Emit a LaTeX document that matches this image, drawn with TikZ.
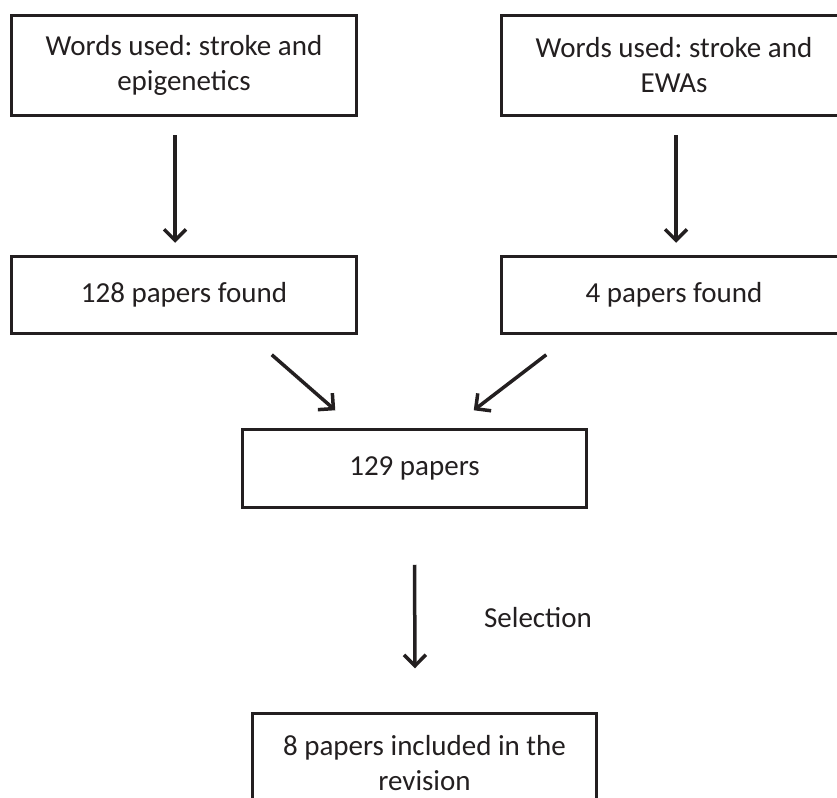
\documentclass[tikz,border=0pt]{standalone}
\usepackage{fontspec}
\setmainfont{Carlito}
\usetikzlibrary{arrows.meta}
\definecolor{ink}{HTML}{231F20}

\tikzset{
  paperbox/.style={
    rectangle,
    draw=ink,
    line width=3.5pt,
    minimum width=345pt,
    inner sep=2pt,
    text width=330pt,
    align=flush center
  },
}

\begin{document}
\begin{tikzpicture}[->, x=1pt, y=-1pt, color=ink, line width=3.5pt,
    >={Straight Barb[length=11pt,width=22pt]}]
  \fontsize{29}{35}\selectfont\frenchspacing
  \useasboundingbox (0,0) rectangle (837,797);
  \clip (0,0) rectangle (837,797);
  \node[paperbox, minimum height=100pt] (words1) at (184, 65.5) {Words used: stroke and epigenetics};
  \node[paperbox, minimum height=100pt] (words2) at (674, 65.5) {Words used: stroke and EWAs};
  \node[paperbox, minimum height=77pt] (found1) at (184, 295) {128 papers found};
  \node[paperbox, minimum height=77pt] (found2) at (674, 295) {4 papers found};
  \node[paperbox, minimum width=344pt, minimum height=78pt] (pool) at (414.5, 468.5) {129 papers};
  \node[paperbox, minimum width=344pt, minimum height=100pt] (final) at (424.5, 763.5) {8 papers included in the revision};
  \node (sel) at (538, 618) {Selection};
  \draw ([xshift=-9pt,yshift=-18pt]words1.south) -- ([xshift=-9pt,yshift=12pt]found1.north);
  \draw ([xshift=2pt,yshift=-18pt]words2.south) -- ([xshift=2pt,yshift=12pt]found2.north);
  \draw ([xshift=-86.5pt,yshift=-19.5pt]found1.south east) -- ([xshift=94.5pt,yshift=17.5pt]pool.north west);
  \draw ([xshift=46.5pt,yshift=-19.5pt]found2.south west) -- ([xshift=-114.5pt,yshift=17.5pt]pool.north east);
  \draw ([yshift=-55.5pt]pool.south) -- ([xshift=-9.5pt,yshift=43.5pt]final.north);
\end{tikzpicture}
\end{document}
